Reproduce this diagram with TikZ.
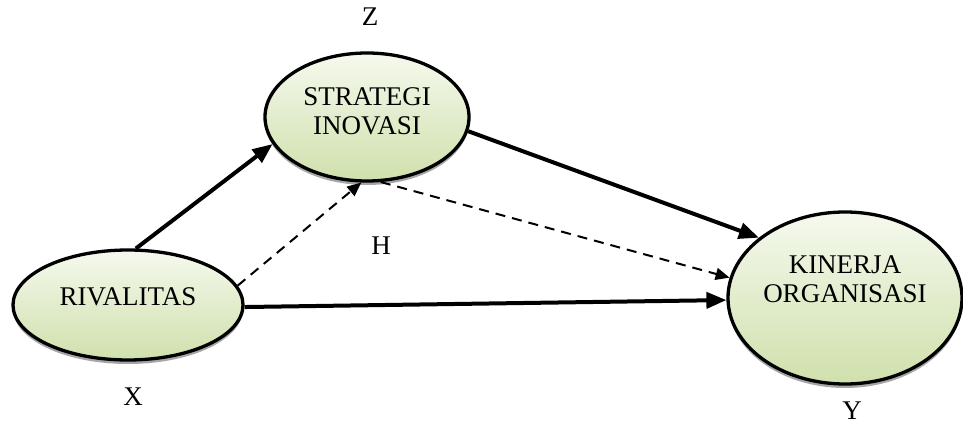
\documentclass[tikz,border=0pt]{standalone}
\usepackage{fontspec}
\setmainfont{Liberation Serif}
\usetikzlibrary{shapes.geometric,arrows.meta,shadows}
\definecolor{gtop}{RGB}{245,249,238}
\definecolor{gbot}{RGB}{208,224,172}
\tikzset{
  bubble/.style={ellipse, draw=black, line width=3.3pt, top color=gtop, bottom color=gbot, inner sep=0pt,
    drop shadow={shadow xshift=0pt, shadow yshift=-4pt, fill=gray!70, opacity=1}},
  txt/.style={font=\fontsize{27}{29}\selectfont, align=center, inner sep=0pt},
  strong/.style={line width=4pt, -{Triangle[length=20pt,width=16pt]}},
  weak/.style={line width=2pt, dash pattern=on 10pt off 7pt, -{Triangle[length=14pt,width=12pt]}}
}
\begin{document}
\begin{tikzpicture}[x=1pt,y=-1pt]
\useasboundingbox[fill=white] (0,0) rectangle (963,430);
\node[bubble, minimum width=230pt, minimum height=110pt] (riv) at (128,305) {};
\node[bubble, minimum width=204pt, minimum height=128pt] (str) at (367,117) {};
\node[bubble, minimum width=234pt, minimum height=172pt] (kin) at (845,298) {};
\node[txt] (tr) at (128,297) {RIVALITAS};
\node[txt] (ts) at (367,111) {STRATEGI\\INOVASI};
\node[txt] (tk) at (845,279) {KINERJA\\ORGANISASI};
\node[txt] (lz) at (370,17) {Z};
\node[txt] (lh) at (381,246) {H};
\node[txt] (lx) at (133,397) {X};
\node[txt] (ly) at (852,411) {Y};
\draw[strong] (riv.82) -- (str.196);
\draw[strong] (str.352) -- (kin.145);
\draw[strong] (riv.359) -- (kin.181);
\draw[weak] (riv.10) -- (str.265);
\draw[weak] (str.282) -- (kin.170);
\end{tikzpicture}
\end{document}
